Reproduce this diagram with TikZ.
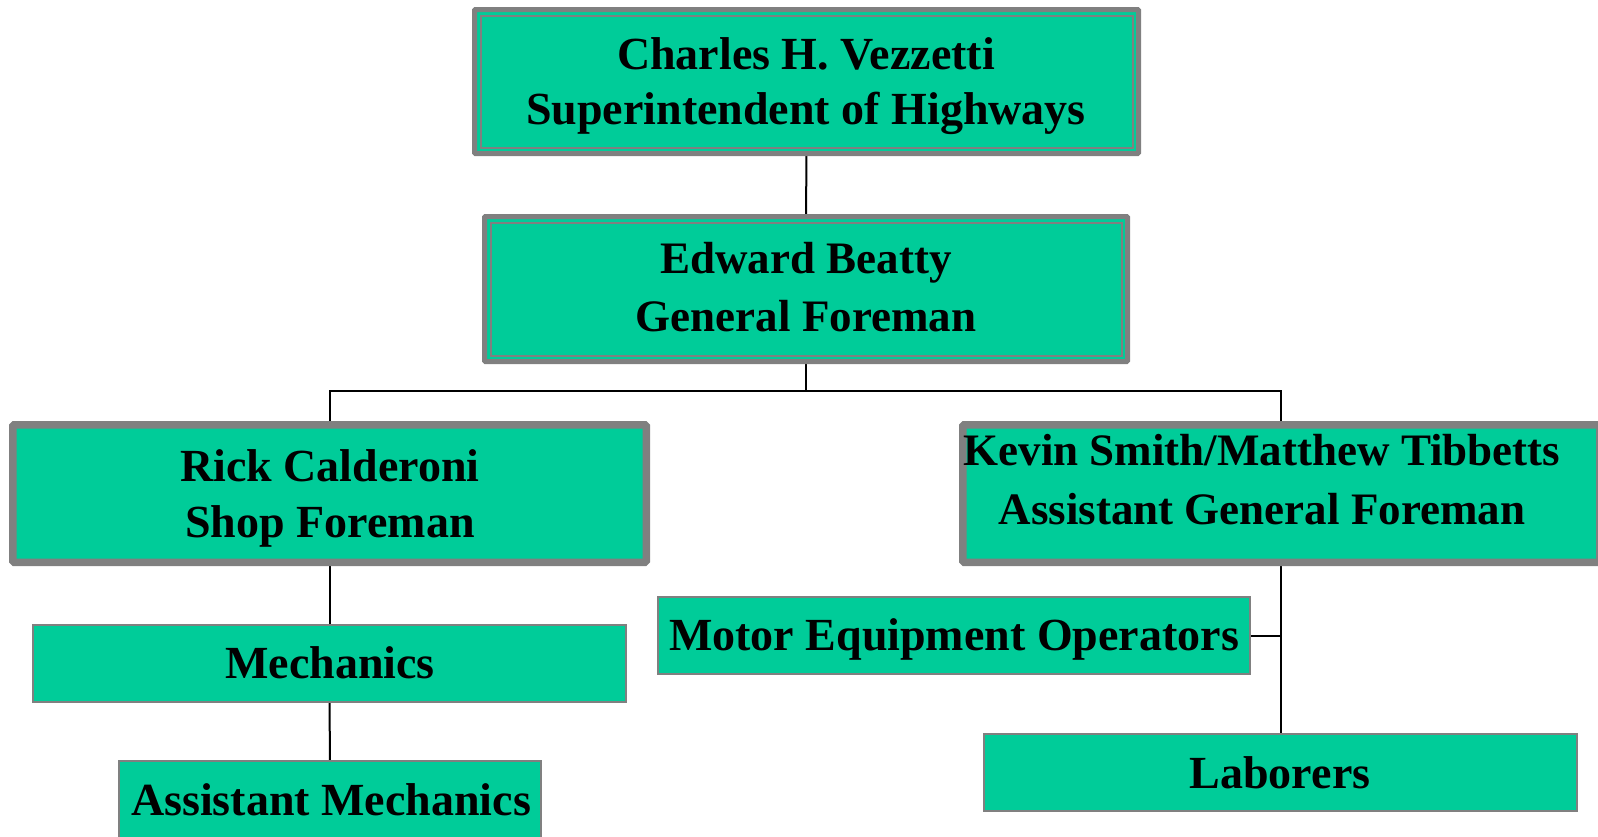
\documentclass[tikz,border=0pt]{standalone}
\usepackage{fontspec}
\setmainfont{Liberation Serif}
\usetikzlibrary{backgrounds}
\definecolor{boxfill}{RGB}{0,204,153}
\definecolor{boxline}{RGB}{128,128,128}
\tikzset{
  box/.style={draw=boxline, fill=boxfill, rectangle, inner sep=0pt, outer sep=0pt},
  thickbox/.style={box, line width=7.5pt, rounded corners=1.5pt},
  dblbox/.style={box, line width=5pt, rounded corners=1pt},
  thinbox/.style={box, line width=2.3pt},
  innerline/.style={draw=boxline, line width=2pt},
  lbl/.style={anchor=base, inner sep=0pt, font=\bfseries\fontsize{46}{55}\selectfont},
  lbls/.style={lbl, font=\bfseries\fontsize{45}{55}\selectfont},
  conn/.style={draw=black, line width=2pt}
}
\begin{document}
\begin{tikzpicture}[x=1pt,y=-1pt]
\useasboundingbox (0,0) rectangle (1598,836);
% boxes
\node[dblbox, minimum width=664pt, minimum height=144pt] (top) at (806.5,81.5) {};
\draw[innerline] ([shift={(6,6)}]top.north west) rectangle ([shift={(-6,-6)}]top.south east);
\node[dblbox, minimum width=643pt, minimum height=145pt] (gf) at (806,289) {};
\draw[innerline] ([shift={(6,6)}]gf.north west) rectangle ([shift={(-6,-6)}]gf.south east);
\node[thickbox, minimum width=633.5pt, minimum height=137.5pt] (shop) at (329.5,493.5) {};
\node[thickbox, minimum width=637pt, minimum height=137.5pt] (agf) at (1281.25,493.5) {};
\node[thinbox, minimum width=593pt, minimum height=77pt] (mech) at (329.5,663.5) {};
\node[thinbox, minimum width=422pt, minimum height=77pt] (amech) at (330,799.5) {};
\node[thinbox, minimum width=592pt, minimum height=77pt] (meo) at (954,635.5) {};
\node[thinbox, minimum width=593pt, minimum height=77pt] (lab) at (1280.5,772.5) {};
% connectors
\coordinate (j) at (806,391);
\begin{scope}[on background layer]
\draw[conn] (top.south) -- (gf.north);
\draw[conn] (gf.south) -- (j);
\draw[conn] (shop.north) -- (shop.north |- j) -- (agf.north |- j) -- (agf.north);
\draw[conn] (shop.south) -- (mech.north);
\draw[conn] (mech.south) -- (amech.north);
\draw[conn] (agf.south -| lab.north) -- (lab.north);
\draw[conn] (meo.east) -- (meo.east -| lab.north);
\end{scope}
% labels
\node[lbl] (t1) at (806,69) {Charles H. Vezzetti};
\node[lbl] (t2) at (806,124) {Superintendent of Highways};
\node[lbls] (t3) at (806,273) {Edward Beatty};
\node[lbls] (t4) at (806,331) {General Foreman};
\node[lbl] (t5) at (330,481) {Rick Calderoni};
\node[lbl] (t6) at (330,537) {Shop Foreman};
\node[lbls] (t7) at (1262,465) {Kevin Smith/Matthew Tibbetts};
\node[lbls] (t8) at (1262,524) {Assistant General Foreman};
\node[lbl] (t9) at (330,678) {Mechanics};
\node[lbl] (t10) at (331,815) {Assistant Mechanics};
\node[lbl] (t11) at (954,650) {Motor Equipment Operators};
\node[lbl] (t12) at (1280,788) {Laborers};
\end{tikzpicture}
\end{document}
